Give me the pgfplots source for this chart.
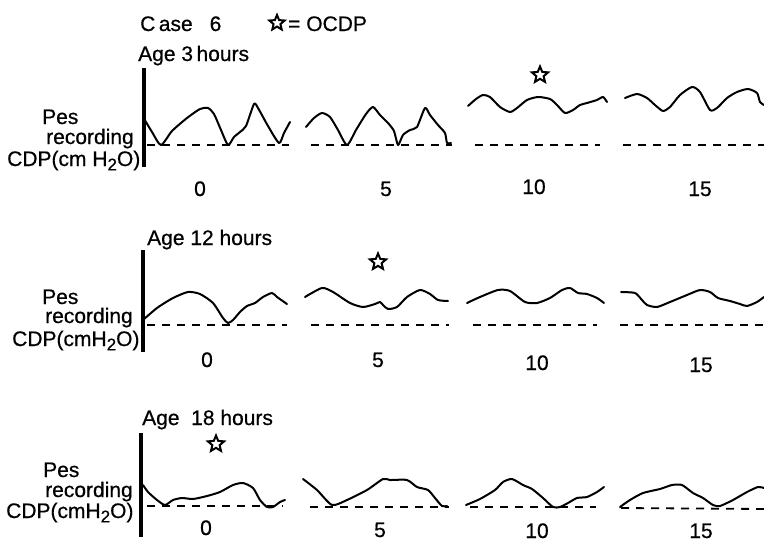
\documentclass[border=0pt]{standalone}
\usepackage{fontspec}
\setmainfont[FakeBold=0.6]{Liberation Sans}
\usepackage{pgfplots}
\pgfplotsset{compat=1.18}
\newcommand{\sub}[1]{\raisebox{-0.4ex}{\fontsize{17}{17}\selectfont #1}}
\pgfdeclareplotmark{ostar}{%
  \pgfpathmoveto{\pgfpointpolar{90}{\pgfplotmarksize}}%
  \pgfpathlineto{\pgfpointpolar{126}{0.45\pgfplotmarksize}}%
  \pgfpathlineto{\pgfpointpolar{162}{\pgfplotmarksize}}%
  \pgfpathlineto{\pgfpointpolar{198}{0.45\pgfplotmarksize}}%
  \pgfpathlineto{\pgfpointpolar{234}{\pgfplotmarksize}}%
  \pgfpathlineto{\pgfpointpolar{270}{0.45\pgfplotmarksize}}%
  \pgfpathlineto{\pgfpointpolar{306}{\pgfplotmarksize}}%
  \pgfpathlineto{\pgfpointpolar{342}{0.45\pgfplotmarksize}}%
  \pgfpathlineto{\pgfpointpolar{18}{\pgfplotmarksize}}%
  \pgfpathlineto{\pgfpointpolar{54}{0.45\pgfplotmarksize}}%
  \pgfpathclose\pgfusepathqstroke}
\begin{document}
\fontsize{21}{25}\selectfont
\begin{tikzpicture}
\begin{axis}[name=A, x=1pt, y=1pt, xmin=0, xmax=764, ymin=0, ymax=541,
  y dir=reverse, hide axis, clip=false,
  every axis plot/.append style={black},
  wave/.style={line width=2pt, smooth, tension=0.4, line join=round, line cap=round},
  base/.style={line width=1.8pt, dash pattern=on 8pt off 7pt},
  vline/.style={line width=3.6pt},
  starmark/.style={only marks, mark=ostar, mark size=8.5pt, mark options={line width=2pt, fill=none}}]
% vertical axis lines
\addplot[vline] coordinates {(144,68) (144,167)};
\addplot[vline] coordinates {(143,250) (143,352)};
\addplot[vline] coordinates {(141,433) (141,537)};
% baselines
\addplot[base] coordinates {(147,145) (289,145)};
\addplot[base] coordinates {(311,145) (452,145)};
\addplot[base] coordinates {(475,145) (600,145)};
\addplot[base] coordinates {(623,145) (764,145)};
\addplot[base] coordinates {(147,325) (287,325)};
\addplot[base] coordinates {(311,325) (449,325)};
\addplot[base] coordinates {(473,325) (597,325)};
\addplot[base] coordinates {(620,325) (764,325)};
\addplot[base] coordinates {(147,506) (283,506)};
\addplot[base] coordinates {(310,507) (449,507)};
\addplot[base] coordinates {(470,507) (596,507)};
\addplot[base] coordinates {(621,508) (764,509)};
% row 1
\addplot[wave] coordinates {(143,117) (152,132) (161,145) (172,131) (187,118) (200,109) (208,108) (214,114) (221,130) (228,145) (234,137) (240,132) (246,126) (254,104) (258,108) (268,126) (279,143) (284,133) (290,122)};
\addplot[wave] coordinates {(306,127) (314,118) (322,113) (330,117) (338,130) (347,145) (356,130) (366,114) (373,107) (380,115) (388,123) (394,131) (398,145) (403,135) (410,130) (417,127) (425,108) (430,115) (438,125) (445,133) (447,143) (451,143)};
\addplot[wave] coordinates {(468,106) (476,99) (483,95) (490,97) (500,107) (510,112) (517,108) (527,100) (538,97) (550,99) (557,105) (565,113) (573,110) (580,105) (587,103) (597,100) (603,97) (607,102)};
\addplot[wave] coordinates {(625,98) (637,94) (647,98) (655,105) (663,111) (670,107) (680,95) (692,87) (700,92) (710,110) (717,108) (727,98) (737,92) (748,89) (757,93) (760,102) (764,105)};
% row 2
\addplot[wave] coordinates {(143,320) (157,308) (173,298) (188,292) (200,294) (213,303) (223,318) (228,323) (233,320) (240,312) (247,306) (255,303) (263,297) (272,293) (277,297) (287,304)};
\addplot[wave] coordinates {(305,297) (322,288) (333,292) (350,303) (363,307) (375,304) (380,302) (383,305) (388,309) (397,307) (407,297) (420,290) (430,294) (438,300) (448,301)};
\addplot[wave] coordinates {(467,303) (480,297) (498,290) (510,291) (525,302) (537,303) (550,298) (562,290) (570,288) (578,293) (587,294) (597,298) (604,303)};
\addplot[wave] coordinates {(621,292) (635,293) (642,300) (647,305) (657,307) (670,302) (687,295) (700,290) (710,292) (718,298) (730,301) (740,304) (747,306) (757,302) (764,297)};
% row 3
\addplot[wave] coordinates {(143,485) (148,492) (157,500) (165,505) (173,500) (182,498) (193,499) (207,496) (220,492) (233,485) (243,483) (253,488) (260,500) (267,507) (273,507) (280,502) (285,500)};
\addplot[wave] coordinates {(303,479) (317,490) (332,505) (347,500) (367,490) (383,479) (390,480) (407,480) (417,487) (428,490) (435,498) (442,506) (447,506)};
\addplot[wave] coordinates {(466,505) (480,499) (495,490) (503,482) (512,479) (523,485) (532,489) (543,498) (553,507) (560,507) (568,503) (577,498) (587,497) (597,492) (604,487)};
\addplot[wave] coordinates {(620,507) (630,500) (643,493) (660,489) (672,485) (682,485) (693,493) (703,498) (713,505) (720,506) (733,500) (747,492) (758,487) (764,488)};
% OCDP stars
\addplot[starmark] coordinates {(540,75) (378,262) (216,444)};
% legend star
\addplot[starmark, mark size=8pt] coordinates {(277,23)};
% texts
\node[anchor=base west, inner sep=0pt] at (axis cs:140,31) {C\,ase\hspace{17pt}6};
\node[anchor=base west, inner sep=0pt] at (axis cs:288,31) {= OCDP};
\node[anchor=base west, inner sep=0pt] at (axis cs:138,61) {Age 3\,hours};
\node[anchor=base west, inner sep=0pt] at (axis cs:147,245) {Age 12 hours};
\node[anchor=base west, inner sep=0pt] at (axis cs:142,425) {Age\ \ 18 hours};
\node[anchor=base west, inner sep=0pt] at (axis cs:42,124) {Pes};
\node[anchor=base west, inner sep=0pt] at (axis cs:46,144) {recording};
\node[anchor=base west, inner sep=0pt] at (axis cs:7,166) {CDP(cm H\sub{2}O)};
\node[anchor=base west, inner sep=0pt] at (axis cs:42,304) {Pes};
\node[anchor=base west, inner sep=0pt] at (axis cs:45,323) {recording};
\node[anchor=base west, inner sep=0pt] at (axis cs:12,346) {CDP(cmH\sub{2}O)};
\node[anchor=base west, inner sep=0pt] at (axis cs:43,477) {Pes};
\node[anchor=base west, inner sep=0pt] at (axis cs:45,497) {recording};
\node[anchor=base west, inner sep=0pt] at (axis cs:6,518) {CDP(cmH\sub{2}O)};
% tick labels
\node[anchor=base, inner sep=0pt] at (axis cs:200,196) {0};
\node[anchor=base, inner sep=0pt] at (axis cs:386,196) {5};
\node[anchor=base, inner sep=0pt] at (axis cs:534,194) {10};
\node[anchor=base, inner sep=0pt] at (axis cs:700,196) {15};
\node[anchor=base, inner sep=0pt] at (axis cs:207,367) {0};
\node[anchor=base, inner sep=0pt] at (axis cs:378,367) {5};
\node[anchor=base, inner sep=0pt] at (axis cs:537,370) {10};
\node[anchor=base, inner sep=0pt] at (axis cs:701,372) {15};
\node[anchor=base, inner sep=0pt] at (axis cs:206,535) {0};
\node[anchor=base, inner sep=0pt] at (axis cs:380,537) {5};
\node[anchor=base, inner sep=0pt] at (axis cs:537,538) {10};
\node[anchor=base, inner sep=0pt] at (axis cs:701,538) {15};
\end{axis}
\pgfresetboundingbox
\path (A.south west) rectangle (A.north east);
\end{tikzpicture}
\end{document}
